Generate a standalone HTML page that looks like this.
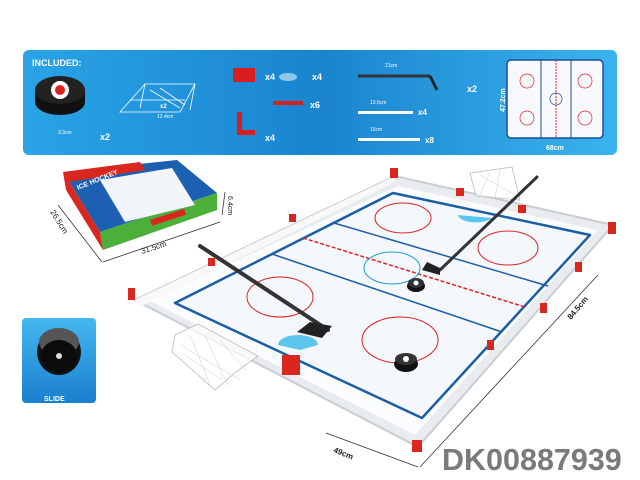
<!DOCTYPE html>
<html><head><meta charset="utf-8"><style>
html,body{margin:0;padding:0;background:#fff;width:640px;height:480px;overflow:hidden}
svg{display:block}
text{font-family:"Liberation Sans",sans-serif}
</style></head><body>
<svg width="640" height="480" viewBox="0 0 640 480">
<defs>
<linearGradient id="bn" x1="0" y1="0" x2="1" y2="0">
<stop offset="0" stop-color="#2aa3e6"/><stop offset="0.5" stop-color="#1a84cf"/><stop offset="1" stop-color="#3ab3ee"/>
</linearGradient>
<linearGradient id="sl" x1="0" y1="0" x2="0" y2="1">
<stop offset="0" stop-color="#45b8f0"/><stop offset="1" stop-color="#1a7fcf"/>
</linearGradient>
</defs>
<rect x="23" y="50" width="594" height="105" rx="6" fill="url(#bn)"/>
<text x="32" y="66" font-size="9" font-weight="bold" fill="#fff">INCLUDED:</text>
<ellipse cx="60" cy="102" rx="25" ry="13" fill="#111"/>
<rect x="35" y="90" width="50" height="12" fill="#111"/>
<ellipse cx="60" cy="90" rx="25" ry="14" fill="#222"/>
<circle cx="60" cy="90" r="9" fill="#fff"/><circle cx="60" cy="90" r="5" fill="#d22"/>
<text x="58" y="134" font-size="5" fill="#fff">3.3cm</text><text x="100" y="140" font-size="9" font-weight="bold" fill="#fff">x2</text>
<g stroke="#fff" stroke-width="0.8" fill="none">
<path d="M120 112 L145 84 L195 84 L180 112 Z M145 84 L140 108 M195 84 L190 110 M130 100 L185 100 M150 90 L180 108 M160 88 L185 105"/>
</g>
<text x="157" y="118" font-size="5" fill="#fff">12.4cm</text><text x="160" y="108" font-size="6" font-weight="bold" fill="#fff">x2</text>
<rect x="233" y="68" width="22" height="14" fill="#d81e1e"/>
<text x="265" y="80" font-size="9" font-weight="bold" fill="#fff">x4</text>
<ellipse cx="288" cy="77" rx="9" ry="4" fill="#8fc8ea"/>
<text x="312" y="80" font-size="9" font-weight="bold" fill="#fff">x4</text>
<rect x="273" y="101" width="30" height="4" fill="#d81e1e"/>
<text x="310" y="108" font-size="9" font-weight="bold" fill="#fff">x6</text>
<path d="M237 112 L242 112 L242 130 L255 130 L255 135 L237 135 Z" fill="#d81e1e"/>
<text x="265" y="141" font-size="9" font-weight="bold" fill="#fff">x4</text>
<line x1="358" y1="76" x2="430" y2="76" stroke="#333" stroke-width="3"/>
<path d="M430 76 L437 90" stroke="#222" stroke-width="3"/>
<text x="385" y="67" font-size="5" fill="#fff">21cm</text>
<text x="467" y="92" font-size="9" font-weight="bold" fill="#fff">x2</text>
<rect x="358" y="111" width="55" height="3" fill="#fff"/><text x="418" y="115" font-size="8" font-weight="bold" fill="#fff">x4</text>
<rect x="358" y="138" width="62" height="3" fill="#fff"/><text x="425" y="143" font-size="8" font-weight="bold" fill="#fff">x8</text>
<text x="370" y="104" font-size="5" fill="#fff">13.6cm</text><text x="370" y="131" font-size="5" fill="#fff">15cm</text>
<rect x="507" y="60" width="96" height="78" rx="4" fill="#f7f9fc" stroke="#1b4e9a" stroke-width="1.5"/>
<g stroke="#d22" fill="none" stroke-width="0.7"><circle cx="527" cy="81" r="7"/><circle cx="527" cy="118" r="7"/><circle cx="585" cy="81" r="7"/><circle cx="585" cy="118" r="7"/></g>
<line x1="541" y1="60" x2="541" y2="138" stroke="#1b4e9a"/><line x1="571" y1="60" x2="571" y2="138" stroke="#1b4e9a"/>
<line x1="556" y1="60" x2="556" y2="138" stroke="#d22" stroke-dasharray="2 1"/>
<circle cx="556" cy="99" r="6" stroke="#1b4e9a" fill="none" stroke-width="0.7"/>
<text x="505" y="112" font-size="7" font-weight="bold" fill="#fff" transform="rotate(-90 505 112)">47.2cm</text>
<text x="546" y="150" font-size="7" font-weight="bold" fill="#fff">68cm</text>
<!-- box -->
<polygon points="63,172 177,160 217,193 100,232" fill="#1d5fb0"/>
<polygon points="100,232 217,193 217,210 103,250" fill="#4caf3a"/>
<polygon points="63,172 100,232 103,250 66,190" fill="#d9261f"/>
<polygon points="63,172 140,162 145,170 68,182" fill="#d9261f"/>
<polygon points="100,180 172,168 195,205 125,222" fill="#f2f6fa"/>
<text x="78" y="190" font-size="7" font-weight="bold" fill="#fff" transform="rotate(-22 78 190)">ICE HOCKEY</text>
<rect x="150" y="220" width="36" height="6" fill="#d9261f" transform="rotate(-18 150 220)"/>
<path d="M58 205 L102 262 M103 262 L220 222 M222 215 L225 192" stroke="#333" stroke-width="0.8" fill="none"/>
<text x="50" y="212" font-size="8" fill="#222" transform="rotate(58 50 212)">26.5cm</text>
<text x="142" y="254" font-size="8" fill="#222" transform="rotate(-18 142 254)">31.5cm</text>
<text x="228" y="196" font-size="7" fill="#222" transform="rotate(90 228 196)">6.4cm</text>
<!-- slide -->
<rect x="22" y="318" width="74" height="85" rx="4" fill="url(#sl)"/>
<ellipse cx="59" cy="352" rx="22" ry="23" fill="#111"/>
<ellipse cx="59" cy="342" rx="20" ry="14" fill="#555"/>
<ellipse cx="59" cy="356" rx="18" ry="16" fill="#0b0b0b"/>
<circle cx="59" cy="356" r="3" fill="#ddd"/>
<text x="44" y="401" font-size="7" font-weight="bold" fill="#fff">SLIDE</text>
<!-- rink frame -->
<polygon points="135,300 395,176 613,225 418,447" fill="#e9ecef" stroke="#c8cdd2" stroke-width="2"/>
<polygon points="135,300 395,176 395,182 140,307" fill="#f8f8f8"/>
<polygon points="150,301 398,186 598,230 415,435" fill="#fbfcfd"/>
<polygon points="175,303 393,193 590,235 422,418" fill="#f4f7fb" stroke="#1c5ea6" stroke-width="2.5" stroke-linejoin="round"/>
<g stroke="#1c5ea6" stroke-width="1.5"><line x1="272" y1="254" x2="502" y2="332"/><line x1="334" y1="223" x2="548" y2="286"/></g>
<line x1="303" y1="238" x2="525" y2="307" stroke="#d22" stroke-width="1.5" stroke-dasharray="4 2"/>
<g stroke="#d22" fill="none" stroke-width="1"><ellipse cx="280" cy="297" rx="33" ry="20"/><ellipse cx="400" cy="340" rx="38" ry="23"/><ellipse cx="403" cy="218" rx="28" ry="15"/><ellipse cx="508" cy="248" rx="30" ry="17"/></g>
<ellipse cx="392" cy="268" rx="28" ry="16" fill="none" stroke="#1c9ad6"/>
<path d="M278 345 A20 10 0 0 1 318 345 L300 350 Z" fill="#5cc6ef"/>
<path d="M458 215 A18 8 0 0 0 492 218 Z" fill="#5cc6ef"/>
<g fill="#d9261f"><rect x="128" y="288" width="7" height="12"/><rect x="390" y="168" width="8" height="10"/><rect x="608" y="222" width="8" height="12"/><rect x="412" y="440" width="10" height="12"/><rect x="456" y="188" width="8" height="8"/><rect x="518" y="205" width="8" height="8"/><rect x="575" y="262" width="7" height="10"/><rect x="540" y="303" width="7" height="10"/><rect x="487" y="340" width="7" height="10"/><rect x="208" y="258" width="7" height="8"/><rect x="289" y="214" width="7" height="8"/><rect x="282" y="355" width="18" height="20"/></g>
<g stroke="#bbb" stroke-width="0.8" fill="rgba(255,255,255,0.7)">
<path d="M175 335 L198 324 L258 356 L236 372 L215 390 L172 352 Z"/>
<path d="M470 173 L512 167 L520 200 L476 196 Z"/>
</g>
<g stroke="#ccc" stroke-width="0.5"><path d="M180 345 L240 380 M185 355 L230 385 M190 335 L210 385 M205 335 L225 380 M220 340 L245 370 M480 175 L515 195 M490 172 L480 195 M500 170 L495 198"/></g>
<line x1="200" y1="246" x2="328" y2="330" stroke="#333" stroke-width="4" stroke-linecap="round"/>
<path d="M310 322 L332 326 L322 338 L297 332 Z" fill="#222"/>
<line x1="537" y1="177" x2="440" y2="270" stroke="#333" stroke-width="3" stroke-linecap="round"/>
<path d="M440 268 L427 262 L422 270 L440 275 Z" fill="#222"/>
<ellipse cx="416" cy="286" rx="9" ry="6" fill="#111"/><ellipse cx="416" cy="283" rx="8" ry="5" fill="#333"/><circle cx="416" cy="283" r="2.5" fill="#fff"/>
<ellipse cx="406" cy="364" rx="12" ry="8" fill="#111"/><ellipse cx="406" cy="359" rx="11" ry="6" fill="#333"/><circle cx="406" cy="359" r="3" fill="#fff"/>
<path d="M326 433 L418 467 M420 467 L598 275" stroke="#333" stroke-width="0.8" fill="none"/>
<text x="333" y="452" font-size="8" font-weight="bold" fill="#222" transform="rotate(22 333 452)">49cm</text>
<text x="571" y="320" font-size="8" font-weight="bold" fill="#222" transform="rotate(-50 571 320)">84.5cm</text>
<text x="442" y="470" font-size="30.5" font-weight="bold" fill="#7a7a7a">DK00887939</text>
</svg>
</body></html>
